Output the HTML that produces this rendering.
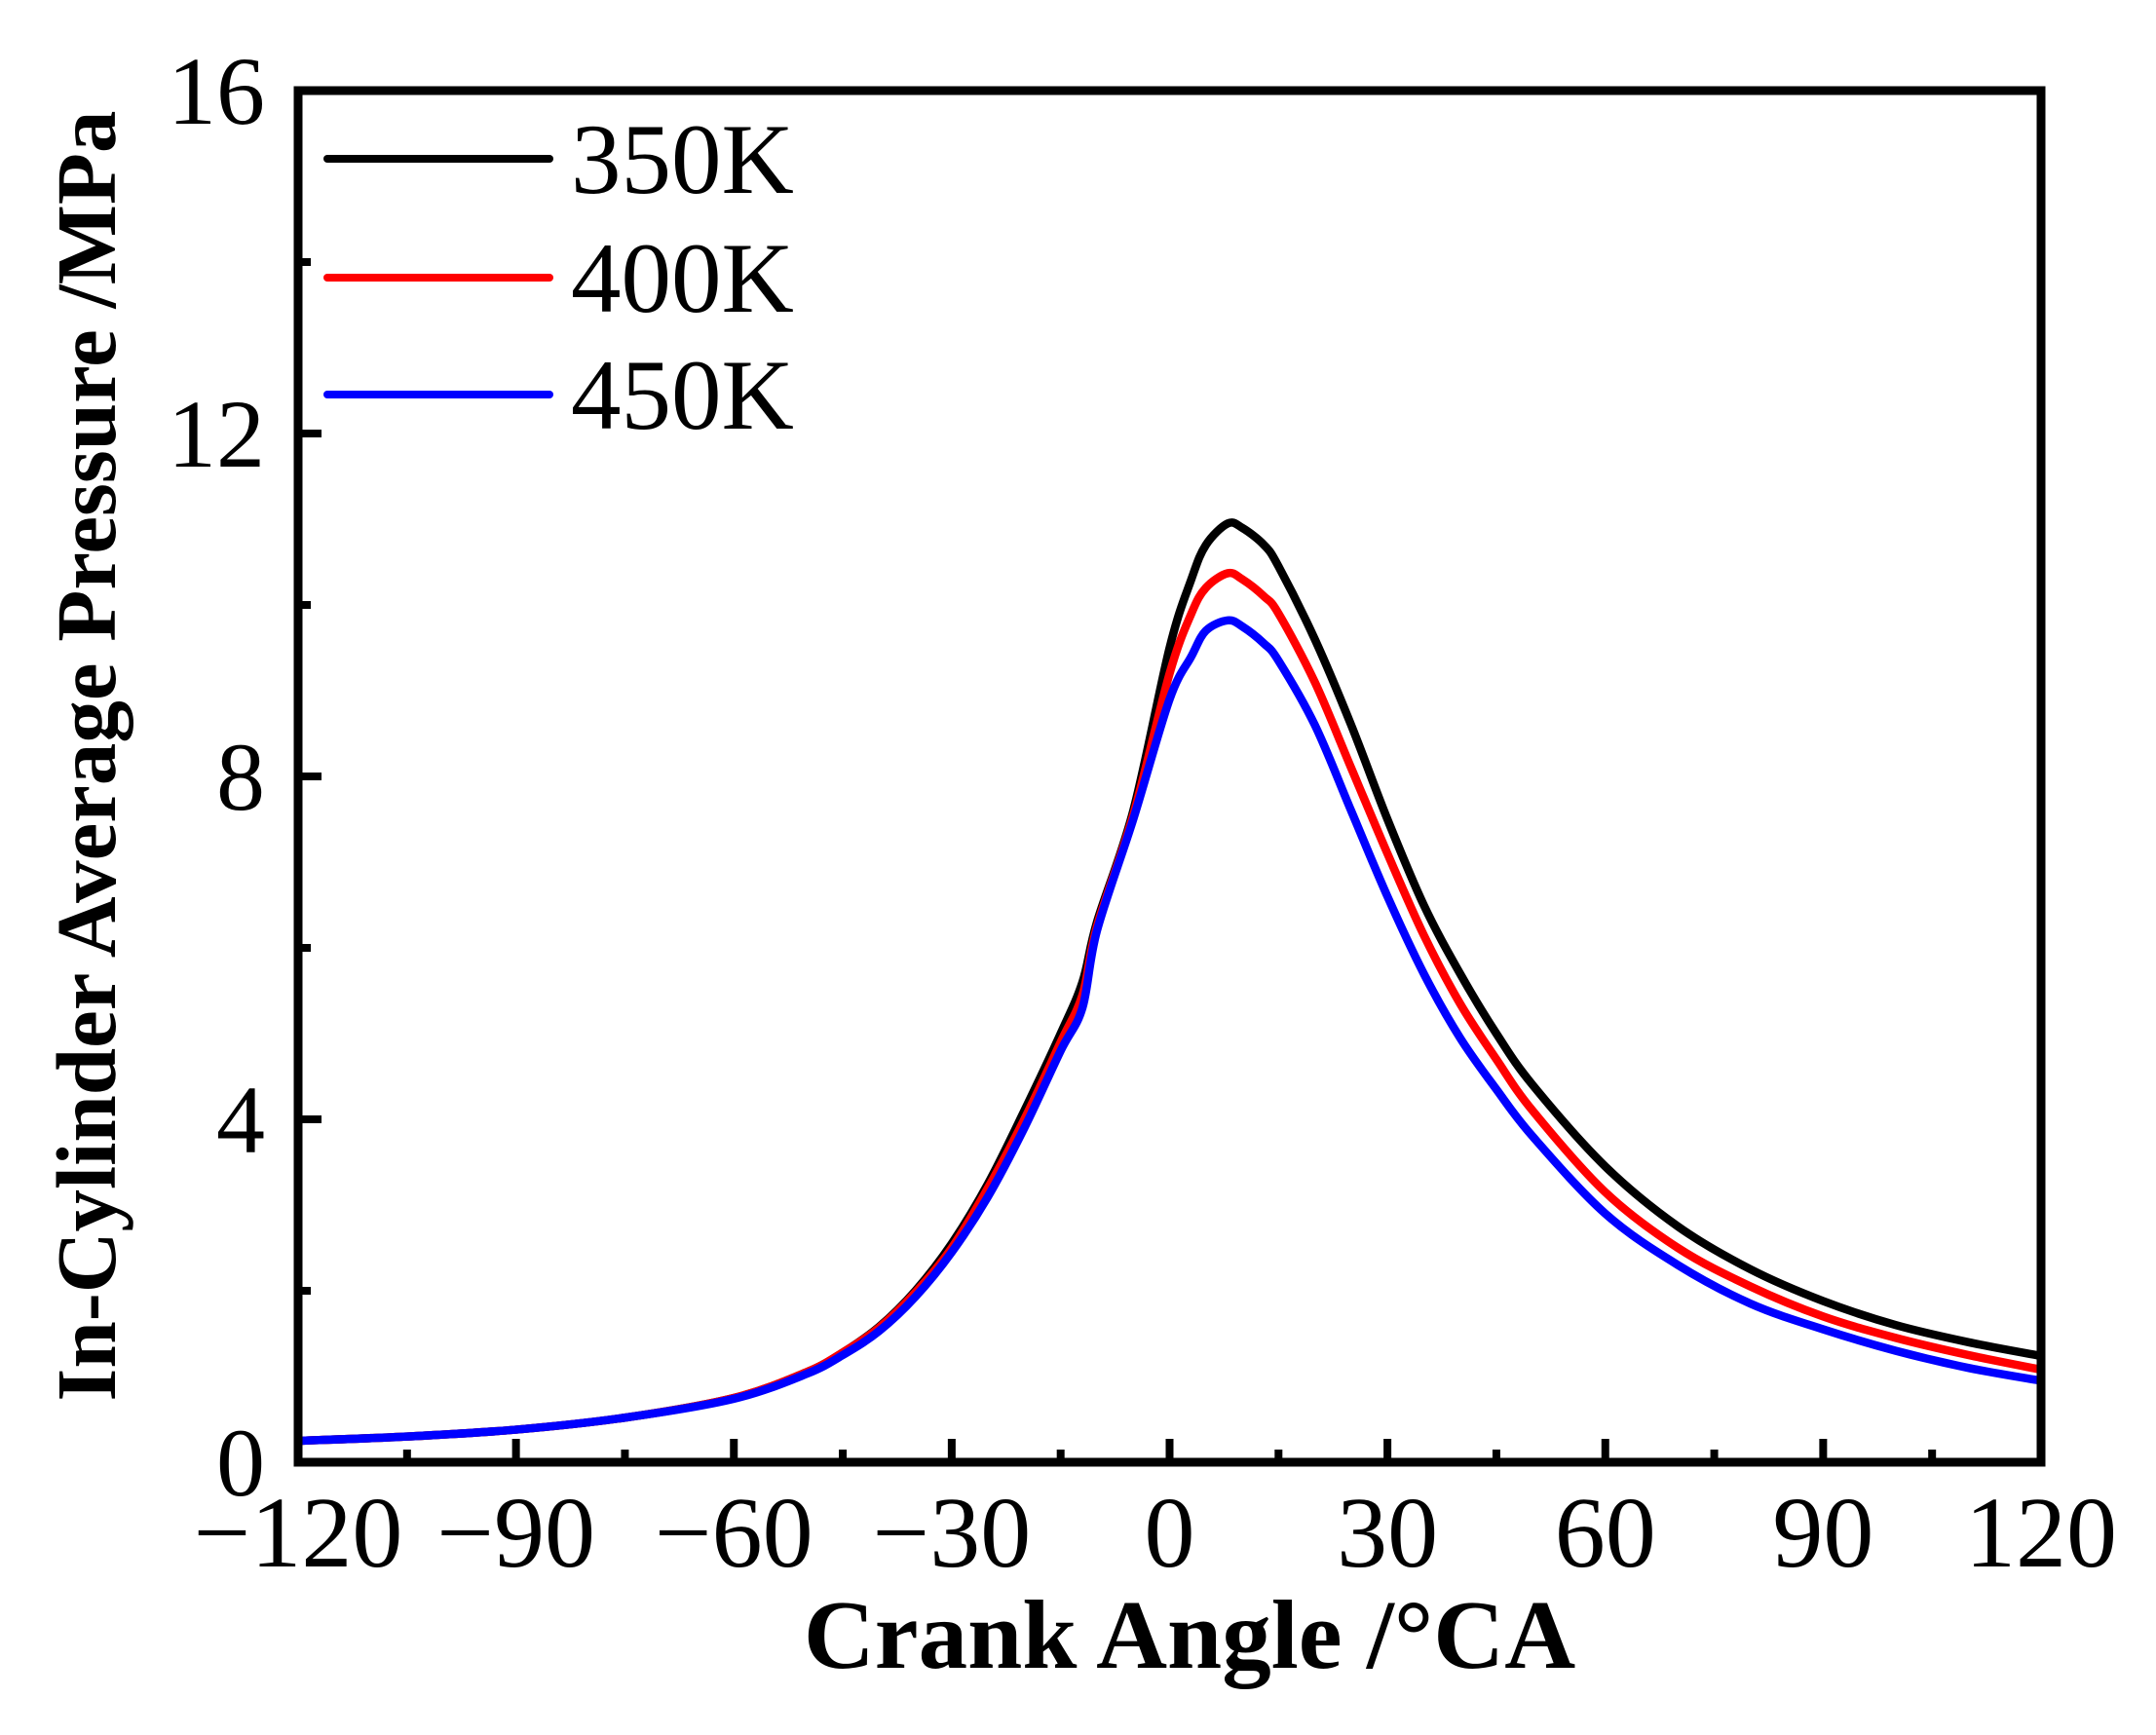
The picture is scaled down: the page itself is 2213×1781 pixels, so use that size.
<!DOCTYPE html>
<html><head><meta charset="utf-8"><style>
html,body{margin:0;padding:0;background:#fff;}
svg{display:block;}
text{font-family:"Liberation Serif",serif;fill:#000;}
</style></head><body>
<svg id="chart" width="2213" height="1781" viewBox="0 0 2213 1781" xmlns="http://www.w3.org/2000/svg">
<g id="curves"></g>
<rect x="306" y="93" width="1789" height="1408" fill="none" stroke="#000" stroke-width="9"/>
<g id="ticks"></g>
<text x="1221" y="1712" font-size="101" font-weight="bold" text-anchor="middle">Crank Angle /°CA</text>
<text transform="translate(118,776) rotate(-90)" font-size="87" font-weight="bold" text-anchor="middle">In-Cylinder Average Pressure /MPa</text>
<g>
<line x1="336" y1="163" x2="564" y2="163" stroke="#000" stroke-width="8" stroke-linecap="round"/>
<text x="586" y="198" font-size="103">350K</text>
<line x1="336" y1="285" x2="564" y2="285" stroke="#f00" stroke-width="8" stroke-linecap="round"/>
<text x="586" y="320" font-size="103">400K</text>
<line x1="336" y1="405" x2="564" y2="405" stroke="#00f" stroke-width="8" stroke-linecap="round"/>
<text x="586" y="440" font-size="103">450K</text>
</g>
</svg>
<script>
const angles = [-120,-105,-90,-75,-60,-50,-45,-40,-35,-30,-25,-20,-15,-12,-10,-5,0,3,5,8,10,13,15,20,25,30,35,40,45,50,60,70,80,90,100,110,120];
const p350 = [0.25,0.30,0.38,0.52,0.75,1.05,1.28,1.58,2.0,2.55,3.25,4.1,5.0,5.6,6.3,7.6,9.5,10.3,10.7,10.95,10.9,10.7,10.45,9.6,8.6,7.5,6.5,5.7,5.0,4.4,3.45,2.75,2.25,1.88,1.6,1.4,1.24];
const p400 = [0.25,0.30,0.38,0.52,0.75,1.05,1.28,1.57,1.98,2.5,3.2,4.0,4.9,5.45,6.25,7.55,9.2,9.9,10.2,10.37,10.3,10.1,9.9,9.1,8.1,7.1,6.15,5.35,4.7,4.1,3.15,2.5,2.05,1.7,1.45,1.25,1.08];
const p450 = [0.25,0.30,0.38,0.52,0.74,1.03,1.25,1.53,1.93,2.45,3.1,3.9,4.8,5.3,6.2,7.5,8.9,9.4,9.7,9.82,9.75,9.55,9.35,8.6,7.6,6.6,5.7,4.95,4.35,3.8,2.9,2.3,1.85,1.55,1.3,1.1,0.95];
const xTicks = [-120,-90,-60,-30,0,30,60,90,120];
const xTickLabels = ["\u2212120","\u221290","\u221260","\u221230","0","30","60","90","120"];
const yTicks = [0,4,8,12,16];
const yTickLabels = ["0","4","8","12","16"];

const X0=306,X1=2095,Y0=1501,Y1=93;
function sx(v){return X0+(v+120)/240*(X1-X0);}
function sy(v){return Y0-v/16*(Y0-Y1);}
const NS="http://www.w3.org/2000/svg";
function pathFor(ys){
  const pts=angles.map((a,i)=>[sx(a),sy(ys[i])]);
  let d="M"+pts[0][0]+","+pts[0][1];
  for(let i=0;i<pts.length-1;i++){
    const p0=pts[Math.max(0,i-1)],p1=pts[i],p2=pts[i+1],p3=pts[Math.min(pts.length-1,i+2)];
    const c1=[p1[0]+(p2[0]-p0[0])/6,p1[1]+(p2[1]-p0[1])/6];
    const c2=[p2[0]-(p3[0]-p1[0])/6,p2[1]-(p3[1]-p1[1])/6];
    d+=" C"+c1[0]+","+c1[1]+" "+c2[0]+","+c2[1]+" "+p2[0]+","+p2[1];
  }
  return d;
}
const g=document.getElementById("curves");
[[p350,"#000","series-350k"],[p400,"#f00","series-400k"],[p450,"#00f","series-450k"]].forEach(s=>{
  const p=document.createElementNS(NS,"path");
  p.setAttribute("d",pathFor(s[0]));
  p.setAttribute("fill","none");
  p.setAttribute("stroke",s[1]);
  p.setAttribute("stroke-width","8.5");
  p.setAttribute("stroke-linejoin","round");
  
  
  g.appendChild(p);
});
const t=document.getElementById("ticks");
function line(x1,y1,x2,y2,name){
  const l=document.createElementNS(NS,"line");
  l.setAttribute("x1",x1);l.setAttribute("y1",y1);l.setAttribute("x2",x2);l.setAttribute("y2",y2);
  l.setAttribute("stroke","#000");l.setAttribute("stroke-width","8");
  
  
  t.appendChild(l);
}
for(let v=-120;v<=120;v+=15){
  const major=(v%30===0);
  line(sx(v),Y0,sx(v),Y0-(major?24:13),major?"x-major-tick":"x-minor-tick");
}
for(let v=0;v<=16;v+=2){
  const major=(v%4===0);
  line(X0,sy(v),X0+(major?24:13),sy(v),major?"y-major-tick":"y-minor-tick");
}
xTicks.forEach((v,i)=>{
  const tx=document.createElementNS(NS,"text");
  tx.setAttribute("x",sx(v));tx.setAttribute("y",1608);
  tx.setAttribute("font-size","104");tx.setAttribute("text-anchor","middle");
  tx.textContent=xTickLabels[i];
  
  
  t.appendChild(tx);
});
yTicks.forEach((v,i)=>{
  const tx=document.createElementNS(NS,"text");
  tx.setAttribute("x",272);tx.setAttribute("y",sy(v)+34);
  tx.setAttribute("font-size","100");tx.setAttribute("text-anchor","end");
  tx.textContent=yTickLabels[i];
  
  
  t.appendChild(tx);
});
</script>
</body></html>
